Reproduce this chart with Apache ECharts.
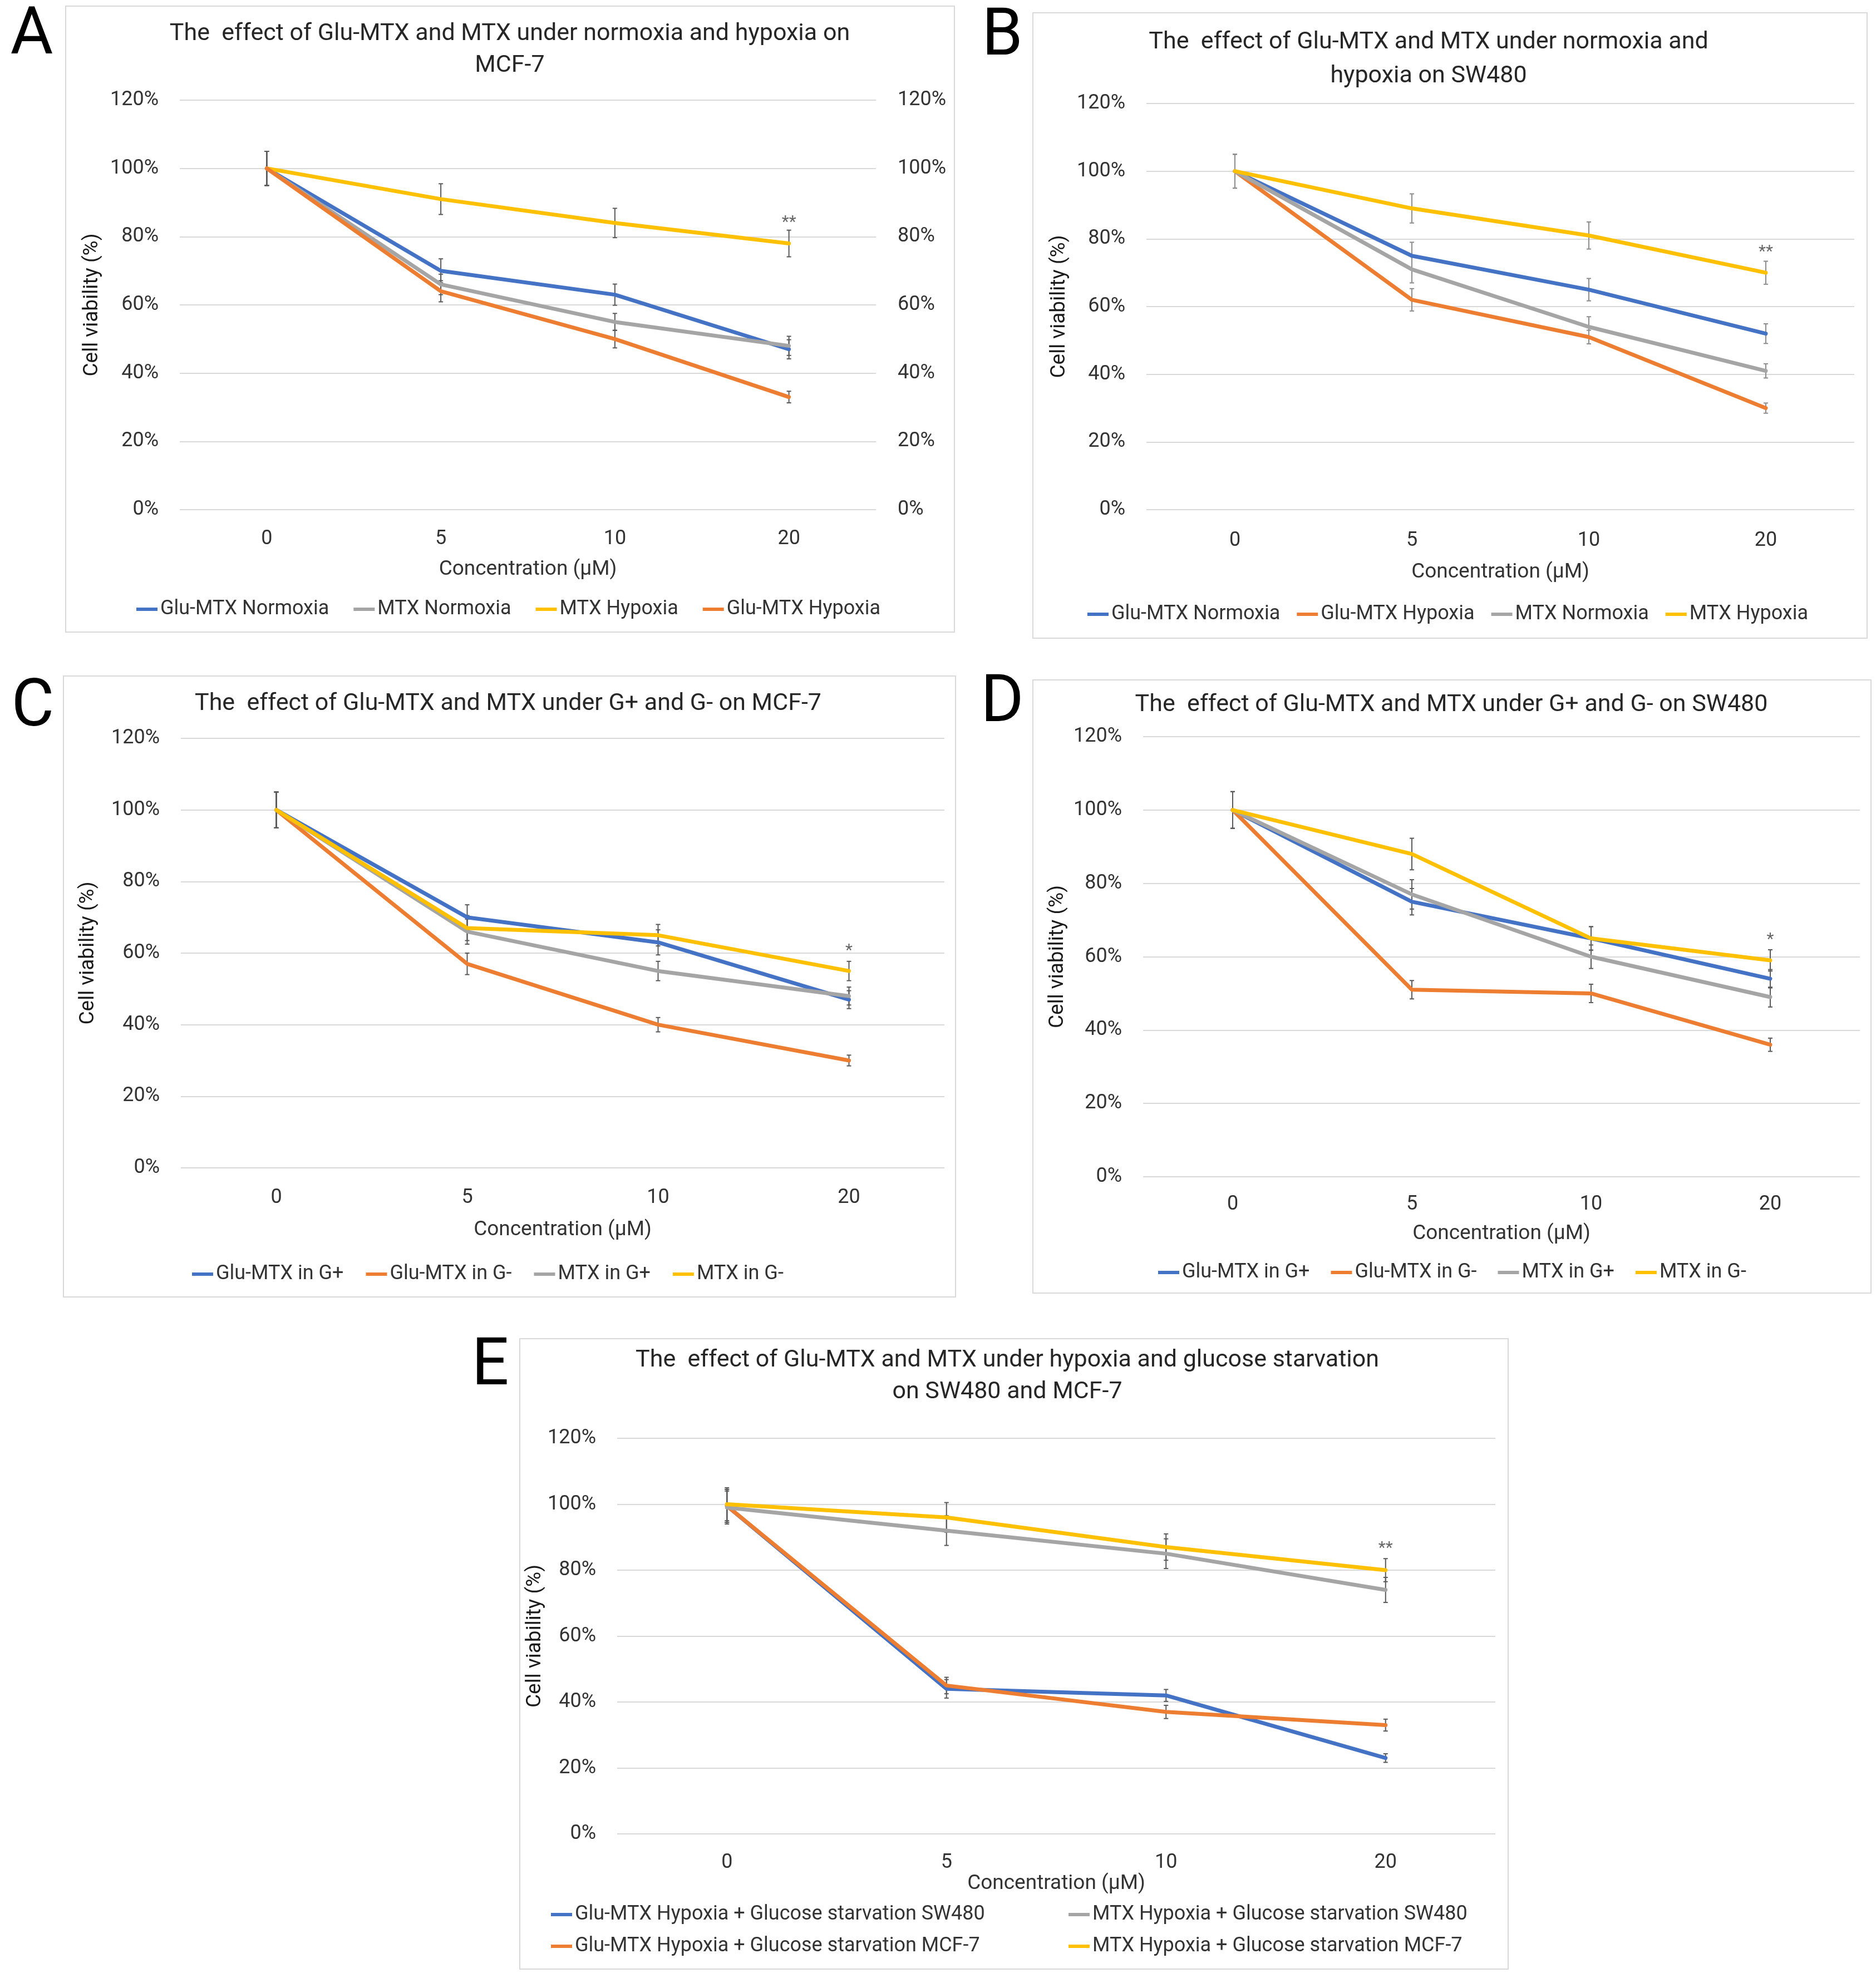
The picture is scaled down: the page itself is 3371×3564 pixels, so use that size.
<!DOCTYPE html>
<html><head><meta charset="utf-8">
<script src="https://cdn.jsdelivr.net/npm/echarts@6/dist/echarts.min.js"></script>
<style>html,body{margin:0;padding:0;background:#fff}#c{width:3371px;height:3564px}</style>
</head><body><div id="c"></div>
<script>
// ---------- DATA ----------
const concentrations = ['0', '5', '10', '20'];

// Panel A – MCF-7, normoxia vs hypoxia
const A_gluNormoxia = [100, 70, 63, 47];
const A_gluNormoxiaErr = [5, 3.5, 3.1, 2.8];
const A_mtxNormoxia = [100, 66, 55, 48];
const A_mtxNormoxiaErr = [5, 3, 2.5, 2.8];
const A_mtxHypoxia = [100, 91, 84, 78];
const A_mtxHypoxiaErr = [5, 4.5, 4.3, 3.9];
const A_gluHypoxia = [100, 64, 50, 33];
const A_gluHypoxiaErr = [5, 3.1, 2.6, 1.7];

// Panel B – SW480, normoxia vs hypoxia
const B_gluNormoxia = [100, 75, 65, 52];
const B_gluNormoxiaErr = [5, 4, 3.3, 2.9];
const B_gluHypoxia = [100, 62, 51, 30];
const B_gluHypoxiaErr = [5, 3.3, 2, 1.5];
const B_mtxNormoxia = [100, 71, 54, 41];
const B_mtxNormoxiaErr = [5, 4, 3, 2.1];
const B_mtxHypoxia = [100, 89, 81, 70];
const B_mtxHypoxiaErr = [5, 4.3, 4, 3.4];

// Panel C – MCF-7, G+ vs G-
const C_gluGplus = [100, 70, 63, 47];
const C_gluGplusErr = [5, 3.5, 3.5, 2.5];
const C_gluGminus = [100, 57, 40, 30];
const C_gluGminusErr = [5, 3, 2, 1.5];
const C_mtxGplus = [100, 66, 55, 48];
const C_mtxGplusErr = [5, 3.5, 2.7, 2.5];
const C_mtxGminus = [100, 67, 65, 55];
const C_mtxGminusErr = [5, 3.5, 3, 2.7];

// Panel D – SW480, G+ vs G-
const D_gluGplus = [100, 75, 65, 54];
const D_gluGplusErr = [5, 3.6, 3.2, 2.5];
const D_gluGminus = [100, 51, 50, 36];
const D_gluGminusErr = [5, 2.5, 2.5, 1.8];
const D_mtxGplus = [100, 77, 60, 49];
const D_mtxGplusErr = [5, 4, 3.2, 2.7];
const D_mtxGminus = [100, 88, 65, 59];
const D_mtxGminusErr = [5, 4.3, 3.2, 2.9];

// Panel E – hypoxia + glucose starvation
const E_gluSW480 = [99.5, 44, 42, 23];
const E_gluSW480Err = [5, 2.8, 1.8, 1.3];
const E_gluMCF7 = [99.5, 45, 37, 33];
const E_gluMCF7Err = [5, 2.5, 2, 1.8];
const E_mtxSW480 = [99, 92, 85, 74];
const E_mtxSW480Err = [5, 4.5, 4.5, 3.8];
const E_mtxMCF7 = [100, 96, 87, 80];
const E_mtxMCF7Err = [5, 4.5, 4, 3.5];

// significance marks at 20 µM
const sigMarks = ['**', '**', '*', '*', '**'];
const sigLevels = [84, 76, 60.5, 64.5, 86.5];

// ---------- STYLE ----------
const BLUE = '#4472C4', ORANGE = '#ED7D31', GRAY = '#A5A5A5', YELLOW = '#FFC000';
const TEXT = '#333333';
const FONT = 'Roboto';

const panels = [
  {
    letter: 'A', letterPos: [57, 66], box: [118, 11, 1597, 1125],
    title: 'The  effect of Glu-MTX and MTX under normoxia and hypoxia on\nMCF-7', titlePos: [916, 90], titleLH: 57,
    grid: {left: 323, top: 180, width: 1251, height: 736},
    labelMargin: 35, xNameGap: 89, yNameGap: 139, rightAxis: true, errColor: '#595959',
    legends: [{left: 245, top: 1077, gap: 44, names: ['Glu-MTX Normoxia', 'MTX Normoxia', 'MTX Hypoxia', 'Glu-MTX Hypoxia']}],
    series: [
      {name: 'Glu-MTX Normoxia', color: BLUE, v: A_gluNormoxia, e: A_gluNormoxiaErr},
      {name: 'MTX Normoxia', color: GRAY, v: A_mtxNormoxia, e: A_mtxNormoxiaErr},
      {name: 'MTX Hypoxia', color: YELLOW, v: A_mtxHypoxia, e: A_mtxHypoxiaErr},
      {name: 'Glu-MTX Hypoxia', color: ORANGE, v: A_gluHypoxia, e: A_gluHypoxiaErr}
    ]
  },
  {
    letter: 'B', letterPos: [1801, 68], box: [1856, 23, 1499, 1124],
    title: 'The  effect of Glu-MTX and MTX under normoxia and\nhypoxia on SW480', titlePos: [2567, 107], titleLH: 61,
    grid: {left: 2060, top: 186, width: 1272, height: 730},
    labelMargin: 38, xNameGap: 94, yNameGap: 138, rightAxis: false, errColor: '#8c8c8c',
    legends: [{left: 1954, top: 1086, gap: 30, names: ['Glu-MTX Normoxia', 'Glu-MTX Hypoxia', 'MTX Normoxia', 'MTX Hypoxia']}],
    series: [
      {name: 'Glu-MTX Normoxia', color: BLUE, v: B_gluNormoxia, e: B_gluNormoxiaErr},
      {name: 'Glu-MTX Hypoxia', color: ORANGE, v: B_gluHypoxia, e: B_gluHypoxiaErr},
      {name: 'MTX Normoxia', color: GRAY, v: B_mtxNormoxia, e: B_mtxNormoxiaErr},
      {name: 'MTX Hypoxia', color: YELLOW, v: B_mtxHypoxia, e: B_mtxHypoxiaErr}
    ]
  },
  {
    letter: 'C', letterPos: [59, 1274], box: [114, 1215, 1603, 1116],
    title: 'The  effect of Glu-MTX and MTX under G+ and G- on MCF-7', titlePos: [913, 1265], titleLH: 57,
    grid: {left: 325, top: 1327, width: 1372, height: 772},
    labelMargin: 36, xNameGap: 93, yNameGap: 148, rightAxis: false, errColor: '#595959',
    legends: [{left: 345, top: 2272, gap: 40, names: ['Glu-MTX in G+', 'Glu-MTX in G-', 'MTX in G+', 'MTX in G-']}],
    series: [
      {name: 'Glu-MTX in G+', color: BLUE, v: C_gluGplus, e: C_gluGplusErr},
      {name: 'Glu-MTX in G-', color: ORANGE, v: C_gluGminus, e: C_gluGminusErr},
      {name: 'MTX in G+', color: GRAY, v: C_mtxGplus, e: C_mtxGplusErr},
      {name: 'MTX in G-', color: YELLOW, v: C_mtxGminus, e: C_mtxGminusErr}
    ]
  },
  {
    letter: 'D', letterPos: [1801, 1266], box: [1856, 1222, 1506, 1102],
    title: 'The  effect of Glu-MTX and MTX under G+ and G- on SW480', titlePos: [2608, 1267], titleLH: 57,
    grid: {left: 2054, top: 1324, width: 1288, height: 791},
    labelMargin: 32, xNameGap: 84, yNameGap: 135, rightAxis: false, errColor: '#595959',
    legends: [{left: 2081, top: 2269, gap: 38, names: ['Glu-MTX in G+', 'Glu-MTX in G-', 'MTX in G+', 'MTX in G-']}],
    series: [
      {name: 'Glu-MTX in G+', color: BLUE, v: D_gluGplus, e: D_gluGplusErr},
      {name: 'Glu-MTX in G-', color: ORANGE, v: D_gluGminus, e: D_gluGminusErr},
      {name: 'MTX in G+', color: GRAY, v: D_mtxGplus, e: D_mtxGplusErr},
      {name: 'MTX in G-', color: YELLOW, v: D_mtxGminus, e: D_mtxGminusErr}
    ]
  },
  {
    letter: 'E', letterPos: [881, 2458], box: [934, 2406, 1776, 1133],
    title: 'The  effect of Glu-MTX and MTX under hypoxia and glucose starvation\non SW480 and MCF-7', titlePos: [1810, 2474], titleLH: 57,
    grid: {left: 1109, top: 2585, width: 1578, height: 711},
    labelMargin: 34, xNameGap: 71, yNameGap: 128, rightAxis: false, errColor: '#595959',
    legends: [
      {left: 990, top: 3423, gap: 0, names: ['Glu-MTX Hypoxia + Glucose starvation SW480']},
      {left: 1920, top: 3423, gap: 0, names: ['MTX Hypoxia + Glucose starvation SW480']},
      {left: 990, top: 3480, gap: 0, names: ['Glu-MTX Hypoxia + Glucose starvation MCF-7']},
      {left: 1920, top: 3480, gap: 0, names: ['MTX Hypoxia + Glucose starvation MCF-7']}
    ],
    series: [
      {name: 'Glu-MTX Hypoxia + Glucose starvation SW480', color: BLUE, v: E_gluSW480, e: E_gluSW480Err},
      {name: 'Glu-MTX Hypoxia + Glucose starvation MCF-7', color: ORANGE, v: E_gluMCF7, e: E_gluMCF7Err},
      {name: 'MTX Hypoxia + Glucose starvation SW480', color: GRAY, v: E_mtxSW480, e: E_mtxSW480Err},
      {name: 'MTX Hypoxia + Glucose starvation MCF-7', color: YELLOW, v: E_mtxMCF7, e: E_mtxMCF7Err}
    ]
  }
];

// ---------- BUILD ----------
const chart = echarts.init(document.getElementById('c'), null, {renderer: 'canvas'});
const option = {
  animation: false, backgroundColor: '#ffffff',
  textStyle: {fontFamily: FONT},
  grid: [], xAxis: [], yAxis: [], legend: [], series: [], graphic: []
};

function errorRenderer(color) {
  return function (params, api) {
    const x = api.value(0), y = api.value(1), e = api.value(2);
    const t = api.coord([x, y + e]);
    const b = api.coord([x, y - e]);
    const cw = 4;
    const st = {stroke: color, lineWidth: 2};
    return {
      type: 'group',
      children: [
        {type: 'line', shape: {x1: t[0], y1: t[1], x2: b[0], y2: b[1]}, style: st},
        {type: 'line', shape: {x1: t[0] - cw, y1: t[1], x2: t[0] + cw, y2: t[1]}, style: st},
        {type: 'line', shape: {x1: b[0] - cw, y1: b[1], x2: b[0] + cw, y2: b[1]}, style: st}
      ]
    };
  };
}

panels.forEach((p, i) => {
  option.grid.push(Object.assign({containLabel: false}, p.grid));
  option.xAxis.push({
    type: 'category', gridIndex: i, data: concentrations, boundaryGap: true,
    axisLine: {show: false}, axisTick: {show: false},
    axisLabel: {margin: p.labelMargin, fontSize: 36, color: TEXT, fontFamily: FONT},
    name: 'Concentration (µM)', nameLocation: 'middle', nameGap: p.xNameGap,
    nameTextStyle: {fontSize: 37, color: TEXT, fontFamily: FONT}
  });
  const yi = option.yAxis.length;
  option.yAxis.push({
    type: 'value', gridIndex: i, min: 0, max: 120, interval: 20,
    axisLine: {show: false}, axisTick: {show: false},
    axisLabel: {formatter: '{value}%', margin: 38, fontSize: 36, color: TEXT, fontFamily: FONT},
    splitLine: {lineStyle: {color: '#D9D9D9', width: 2}},
    name: 'Cell viability (%)', nameLocation: 'middle', nameGap: p.yNameGap,
    nameTextStyle: {fontSize: 37, color: '#1a1a1a', fontFamily: FONT}
  });
  if (p.rightAxis) {
    option.yAxis.push({
      type: 'value', gridIndex: i, position: 'right', min: 0, max: 120, interval: 20,
      axisLine: {show: false}, axisTick: {show: false}, splitLine: {show: false},
      axisLabel: {formatter: '{value}%', margin: 39, fontSize: 36, color: TEXT, fontFamily: FONT}
    });
  }
  p.series.forEach((s) => {
    option.series.push({
      type: 'custom', name: s.name + ' error', xAxisIndex: i, yAxisIndex: yi, z: 2,
      renderItem: errorRenderer(p.errColor),
      encode: {x: 0, y: 1},
      data: s.v.map((v, k) => [k, v, s.e[k]]),
      silent: true
    });
    option.series.push({
      type: 'line', name: s.name, xAxisIndex: i, yAxisIndex: yi, z: 3,
      data: s.v, symbol: 'none', smooth: false,
      itemStyle: {color: s.color}, lineStyle: {color: s.color, width: 7, join: 'round', cap: 'round'}
    });
  });
  option.series.push({
    type: 'scatter', name: 'sig' + i, xAxisIndex: i, yAxisIndex: yi, z: 4,
    symbol: 'circle', symbolSize: 2, itemStyle: {color: 'rgba(255,255,255,0)'},
    data: [[3, sigLevels[i]]], silent: true,
    label: {show: true, position: 'inside', formatter: sigMarks[i], fontSize: 30, color: '#404040', fontFamily: FONT}
  });
  p.legends.forEach((lg) => {
    option.legend.push({
      left: lg.left, top: lg.top, orient: 'horizontal', itemGap: lg.gap,
      itemWidth: 38, itemHeight: 6, icon: 'rect', selectedMode: false,
      data: lg.names, padding: 0,
      textStyle: {fontSize: 36, color: TEXT, fontFamily: FONT}
    });
  });
  option.graphic.push({
    type: 'rect', z: -10, shape: {x: p.box[0], y: p.box[1], width: p.box[2], height: p.box[3]},
    style: {fill: 'none', stroke: '#D9D9D9', lineWidth: 2}
  });
  option.graphic.push({
    type: 'text', x: p.titlePos[0], y: p.titlePos[1],
    style: {text: p.title, fontSize: 43, fontFamily: FONT, fill: '#262626', align: 'center', verticalAlign: 'middle', lineHeight: p.titleLH}
  });
  option.graphic.push({
    type: 'text', x: p.letterPos[0], y: p.letterPos[1],
    style: {text: p.letter, fontSize: 118, fontFamily: FONT, fill: '#000', align: 'center', verticalAlign: 'middle'}
  });
});

chart.setOption(option);
</script>
</body></html>
